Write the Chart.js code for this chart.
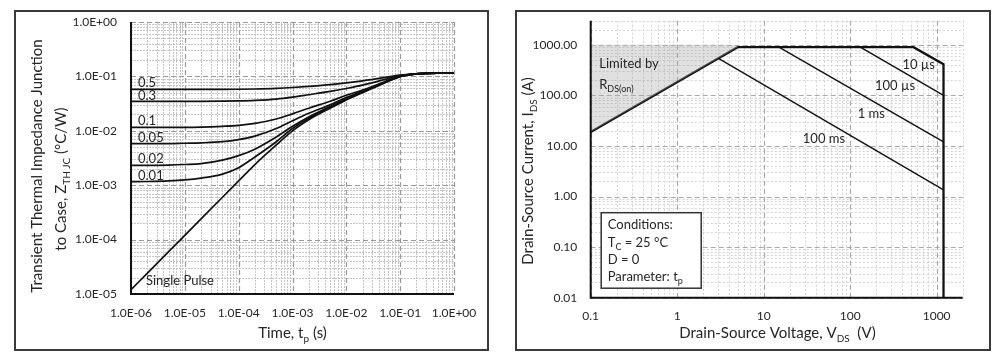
<!DOCTYPE html>
<html><head><meta charset="utf-8">
<script src="https://cdn.jsdelivr.net/npm/chart.js@4/dist/chart.umd.min.js"></script>
<style>
html,body{margin:0;padding:0;background:#fff;}
#wrap{position:relative;width:1000px;height:358px;overflow:hidden;background:#fff;}
canvas{position:absolute;top:0;}
.frame{position:absolute;border:2px solid #3a3a3a;box-sizing:border-box;pointer-events:none;}
</style></head><body>
<div id="wrap">
<canvas id="c1" width="500" height="358" style="left:0px"></canvas>
<canvas id="c2" width="500" height="358" style="left:500px"></canvas>
<div class="frame" style="left:14px;top:10px;width:475px;height:341px"></div>
<div class="frame" style="left:515px;top:10px;width:476px;height:341px"></div>
</div>
<script>
// ---------- Left chart data: transient thermal impedance ----------
const timeS   = [1e-6, 2e-6, 5e-6, 1e-5, 2e-5, 5e-5, 1e-4, 2e-4, 5e-4, 1e-3, 2e-3, 5e-3, 1e-2, 2e-2, 5e-2, 1e-1, 2e-1, 3e-1, 5e-1, 1];
const zD05    = [0.0576,0.0576,0.0576,0.0576,0.0577,0.0578,0.0581,0.0587,0.0603,0.0625,0.0655,0.0705,0.0760,0.0830,0.0950,0.1060,0.1120,0.1140,0.1150,0.1150];
const zD03    = [0.0346,0.0346,0.0346,0.0346,0.0347,0.0350,0.0354,0.0362,0.0383,0.0415,0.0460,0.0530,0.0600,0.0690,0.0870,0.1040,0.1115,0.1140,0.1150,0.1150];
const zD01    = [0.0116,0.0116,0.0116,0.0116,0.0117,0.0121,0.0126,0.0137,0.0165,0.0205,0.0260,0.0350,0.0450,0.0560,0.0790,0.1010,0.1112,0.1140,0.1150,0.1150];
const zD005   = [0.0058,0.0058,0.0058,0.0059,0.0060,0.0063,0.0069,0.0080,0.0110,0.0153,0.0210,0.0300,0.0410,0.0530,0.0770,0.1000,0.1110,0.1140,0.1150,0.1150];
const zD002   = [0.00231,0.00232,0.00234,0.0024,0.0025,0.0029,0.0035,0.0046,0.0077,0.0121,0.0180,0.0280,0.0390,0.0520,0.0760,0.1000,0.1110,0.1140,0.1150,0.1150];
const zD001   = [0.00116,0.00117,0.00120,0.00125,0.00135,0.0016,0.0021,0.0033,0.0063,0.0110,0.0170,0.0270,0.0380,0.0510,0.0760,0.0995,0.1110,0.1140,0.1150,0.1150];
const zSingle = [1.2e-5,2.4e-5,6.0e-5,1.2e-4,2.4e-4,6.0e-4,1.2e-3,2.4e-3,5.5e-3,1.0e-2,1.6e-2,2.6e-2,3.7e-2,5.0e-2,7.5e-2,0.099,0.111,0.114,0.115,0.115];
const dutyLabels = ['0.5','0.3','0.1','0.05','0.02','0.01'];
const timeTicks = [1e-6,1e-5,1e-4,1e-3,1e-2,1e-1,1];
const timeTickLabels = ['1.0E-06','1.0E-05','1.0E-04','1.0E-03','1.0E-02','1.0E-01','1.0E+00'];
const zthTicks = [1e-5,1e-4,1e-3,1e-2,1e-1,1];
const zthTickLabels = ['1.0E-05','1.0E-04','1.0E-03','1.0E-02','1.0E-01','1.0E+00'];

// ---------- Right chart data: safe operating area ----------
const vdsBoundary = [0.1, 5, 540, 1200, 1200];
const idsBoundary = [19, 900, 900, 415, 0.01];
const vds100us = [131, 1200];  const ids100us = [900, 100];
const vds1ms   = [15, 1200];   const ids1ms   = [900, 12];
const vds100ms = [3.0, 1200];  const ids100ms = [540, 1.35];
const vdsRds   = [0.1, 5];     const idsRds   = [19, 900];  const idsRdsTop = [1000, 1000];
const vdsTicks = [0.1,1,10,100,1000];
const vdsTickLabels = ['0.1','1','10','100','1000'];
const idsTicks = [0.01,0.1,1,10,100,1000];
const idsTickLabels = ['0.01','0.10','1.00','10.00','100.00','1000.00'];

const FONT = 'Lato, "Open Sans", sans-serif';
const TXT = '#262626';

function pts(xs, ys){ return xs.map((x,i)=>({x:x, y:ys[i]})); }

function drawRich(ctx, segs, x, yCenter, size, align){
  const sub = Math.round(size*0.66);
  let w = 0;
  segs.forEach(([t,s])=>{ ctx.font = (s?sub:size)+'px '+FONT; w += ctx.measureText(t).width; });
  let cx = align==='center' ? x - w/2 : (align==='right' ? x - w : x);
  const base = yCenter + size*0.35;
  ctx.textAlign = 'left'; ctx.textBaseline = 'alphabetic'; ctx.fillStyle = TXT;
  segs.forEach(([t,s])=>{
    ctx.font = (s?sub:size)+'px '+FONT;
    ctx.fillText(t, cx, base + (s? size*0.25 : 0));
    cx += ctx.measureText(t).width;
  });
}
function drawRichRot(ctx, segs, cx, cy, size){
  ctx.save(); ctx.translate(cx, cy); ctx.rotate(-Math.PI/2);
  drawRich(ctx, segs, 0, 0, size, 'center');
  ctx.restore();
}

function gridPlugin(o){
  return {
    id:'logGrid',
    beforeDatasetsDraw(chart){
      const {ctx, chartArea:a, scales:{x, y}} = chart;
      ctx.save();
      const draw = (scale, horiz, major) => {
        const lo = Math.floor(Math.log10(scale.min)+1e-9), hi = Math.ceil(Math.log10(scale.max)-1e-9);
        for (let d=lo; d<=hi; d++) for (let m=1; m<=9; m++){
          const v = m*Math.pow(10,d);
          if (v < scale.min*0.999 || v > scale.max*1.001) continue;
          if ((m===1)!==major) continue;
          const p = Math.round(scale.getPixelForValue(v)) + 0.5;
          ctx.beginPath();
          if (horiz){ ctx.moveTo(a.left,p); ctx.lineTo(a.right,p); }
          else { ctx.moveTo(p,a.top); ctx.lineTo(p,a.bottom); }
          ctx.stroke();
        }
      };
      ctx.lineWidth = 1; ctx.strokeStyle = o.minorColor; ctx.setLineDash(o.minorDash);
      draw(x,false,false); draw(y,true,false);
      ctx.lineWidth = o.majorWidth; ctx.strokeStyle = o.majorColor; ctx.setLineDash(o.majorDash);
      draw(x,false,true); draw(y,true,true);
      ctx.restore();
    },
    afterDatasetsDraw(chart){
      const {ctx, chartArea:a} = chart;
      ctx.save();
      ctx.strokeStyle = '#111'; ctx.lineWidth = 2; ctx.setLineDash([]);
      ctx.beginPath(); ctx.moveTo(a.left, a.top); ctx.lineTo(a.left, a.bottom); ctx.lineTo(a.right, a.bottom); ctx.stroke();
      ctx.restore();
    }
  };
}

function logAxis(min, max, ticks, labels, pad, fit){
  return {
    type:'logarithmic', min:min, max:max,
    grid:{display:false, drawTicks:false}, border:{display:false},
    afterBuildTicks:(s)=>{ s.ticks = ticks.map(v=>({value:v})); },
    afterFit:(s)=>{ if (fit.w) s.width = fit.w; if (fit.h) s.height = fit.h; },
    ticks:{ autoSkip:false, maxRotation:0, minRotation:0, padding:pad, color:TXT,
      font:{family:FONT, size:12}, callback:(v,i)=>labels[i] }
  };
}

// ---------- Left chart ----------
const leftSeries = [zD05, zD03, zD01, zD005, zD002, zD001, zSingle];
const leftText = {
  id:'leftText',
  afterDraw(chart){
    const {ctx, chartArea:a, scales:{y}} = chart;
    ctx.save();
    dutyLabels.forEach((lab,i)=>{
      drawRich(ctx, [[lab,0]], a.left+7, y.getPixelForValue(leftSeries[i][0]) - 6.5, 13, 'left');
    });
    drawRich(ctx, [['Single Pulse',0]], a.left+15, a.bottom-14, 13, 'left');
    drawRich(ctx, [['Time, t',0],['p',1],[' (s)',0]], (a.left+a.right)/2, 333, 15, 'center');
    drawRichRot(ctx, [['Transient Thermal Impedance Junction',0]], 37, 166, 15);
    drawRichRot(ctx, [['to Case, Z',0],['TH JC',1],[' (°C/W)',0]], 61, 179, 15);
    ctx.restore();
  }
};
new Chart(document.getElementById('c1'), {
  type:'line',
  data:{ datasets: leftSeries.map(arr=>({
    data: pts(timeS, arr), borderColor:'#111', borderWidth:1.7, pointRadius:0,
    fill:false, cubicInterpolationMode:'monotone' })) },
  options:{
    responsive:false, animation:false, events:[],
    layout:{padding:{left:71, right:46, top:22, bottom:24}},
    plugins:{legend:{display:false}, tooltip:{enabled:false}},
    scales:{
      x: logAxis(1e-6, 1, timeTicks, timeTickLabels, 12, {h:40}),
      y: logAxis(1e-5, 1, zthTicks, zthTickLabels, 14, {w:60})
    }
  },
  plugins:[gridPlugin({minorColor:'#c4c4c4', minorDash:[2,1], majorColor:'#9a9a9a', majorDash:[5,3], majorWidth:1.2}), leftText]
});

// ---------- Right chart ----------
const rightText = {
  id:'rightText',
  afterDraw(chart){
    const {ctx, chartArea:a, scales:{x, y}} = chart;
    ctx.save();
    drawRich(ctx, [['Limited by',0]], a.left+8.5, 63, 13, 'left');
    drawRich(ctx, [['R',0],['DS(on)',1]], a.left+8.5, 84, 13, 'left');
    drawRich(ctx, [['10 µs',0]], x.getPixelForValue(955), y.getPixelForValue(412), 13, 'right');
    drawRich(ctx, [['100 µs',0]], x.getPixelForValue(562), y.getPixelForValue(160), 13, 'right');
    drawRich(ctx, [['1 ms',0]], x.getPixelForValue(252), y.getPixelForValue(43.6), 13, 'right');
    drawRich(ctx, [['100 ms',0]], x.getPixelForValue(87.3), y.getPixelForValue(13.8), 13, 'right');
    // conditions box
    const bx = a.left+10.5, by = a.bottom-85, bw = 100, bh = 75.5;
    ctx.fillStyle = '#fff'; ctx.fillRect(bx, by, bw, bh);
    ctx.strokeStyle = '#333'; ctx.lineWidth = 1.5; ctx.strokeRect(bx, by, bw, bh);
    const tx = bx+6.5;
    drawRich(ctx, [['Conditions:',0]], tx, by+11.5, 13, 'left');
    drawRich(ctx, [['T',0],['C',1],[' = 25 °C',0]], tx, by+29.3, 13, 'left');
    drawRich(ctx, [['D = 0',0]], tx, by+47, 13, 'left');
    drawRich(ctx, [['Parameter: t',0],['p',1]], tx, by+63.5, 13, 'left');
    // axis titles
    drawRich(ctx, [['Drain-Source Voltage, V',0],['DS',1],['  (V)',0]], 277.5, 332.5, 15, 'center');
    drawRichRot(ctx, [['Drain-Source Current, I',0],['DS',1],[' (A)',0]], 28, 171, 15);
    ctx.restore();
  }
};
const lineDs = (xs, ys, w) => ({data: pts(xs, ys), borderColor:'#111', borderWidth:w, pointRadius:0, fill:false, tension:0});
new Chart(document.getElementById('c2'), {
  type:'line',
  data:{ datasets:[
    {data: pts(vdsRds, idsRds), borderWidth:0, borderColor:'rgba(0,0,0,0)', pointRadius:0, fill:false},
    {data: pts(vdsRds, idsRdsTop), borderWidth:0, borderColor:'rgba(0,0,0,0)', pointRadius:0, fill:'-1', backgroundColor:'rgba(170,170,170,0.36)'},
    lineDs(vds100ms, ids100ms, 1.4),
    lineDs(vds1ms, ids1ms, 1.4),
    lineDs(vds100us, ids100us, 1.4),
    lineDs(vdsBoundary, idsBoundary, 2.3)
  ]},
  options:{
    responsive:false, animation:false, events:[],
    layout:{padding:{left:30.7, right:37.3, top:18.3, bottom:20.3}},
    plugins:{legend:{display:false}, tooltip:{enabled:false}},
    scales:{
      x: logAxis(0.1, 2000, vdsTicks, vdsTickLabels, 11, {h:40}),
      y: logAxis(0.01, 3000, idsTicks, idsTickLabels, 13.5, {w:60})
    }
  },
  plugins:[gridPlugin({minorColor:'#d2d2d2', minorDash:[2,2], majorColor:'#a8a8a8', majorDash:[5,3], majorWidth:1.2}), rightText]
});
</script>
</body></html>
